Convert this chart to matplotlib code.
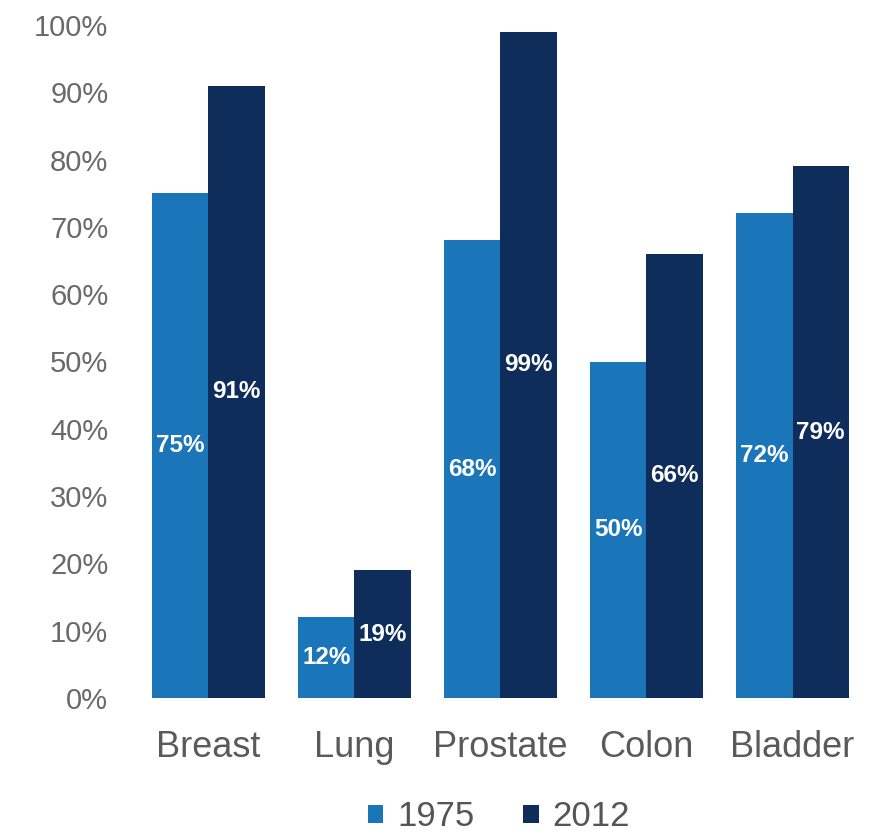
import matplotlib
matplotlib.use("Agg")
import matplotlib.pyplot as plt
import numpy as np

plt.rcParams['font.family'] = ['Liberation Sans', 'DejaVu Sans']

categories = ["Breast", "Lung", "Prostate", "Colon", "Bladder"]
years = ["1975", "2012"]
v1975 = [75, 12, 68, 50, 72]
v2012 = [91, 19, 99, 66, 79]
colors = ["#1b76b9", "#0f2d5a"]

W, H = 879, 834
fig = plt.figure(figsize=(W/100, H/100), dpi=100)
ax = fig.add_axes([125/W, 136/H, (870-125)/W, (809-136)/H])

x = np.arange(len(categories))
bw = 0.385
b1 = ax.bar(x - bw/2, v1975, bw, color=colors[0], label=years[0])
b2 = ax.bar(x + bw/2, v2012, bw, color=colors[1], label=years[1])

for bars, vals in ((b1, v1975), (b2, v2012)):
    for r, v in zip(bars, vals):
        ax.text(r.get_x() + r.get_width()/2, v/2, f"{v}%", ha="center", va="center",
                color="white", fontsize=17.5, fontweight="bold")

ax.set_xlim(-0.57, 4.53)
ax.set_ylim(0, 100)
ax.set_yticks(np.arange(0, 101, 10))
ax.set_yticklabels([f"{t}%" for t in range(0, 101, 10)])
ax.set_xticks(x)
ax.set_xticklabels(categories)
for s in ax.spines.values():
    s.set_visible(False)
ax.tick_params(axis="both", length=0)
ax.tick_params(axis="y", labelsize=21, labelcolor="#6a6a6a", pad=12)
ax.tick_params(axis="x", labelsize=26, labelcolor="#5a5a5a", pad=23)

leg = fig.legend(handles=[b1, b2], labels=years, loc="center", bbox_to_anchor=(499/W, 17/H),
                 ncol=2, frameon=False, fontsize=25, handlelength=0.45, handleheight=0.45,
                 handletextpad=0.4, columnspacing=1.4, labelcolor="#555555",
                 borderpad=0, borderaxespad=0)

fig.savefig("out.png", dpi=100, facecolor="white")
